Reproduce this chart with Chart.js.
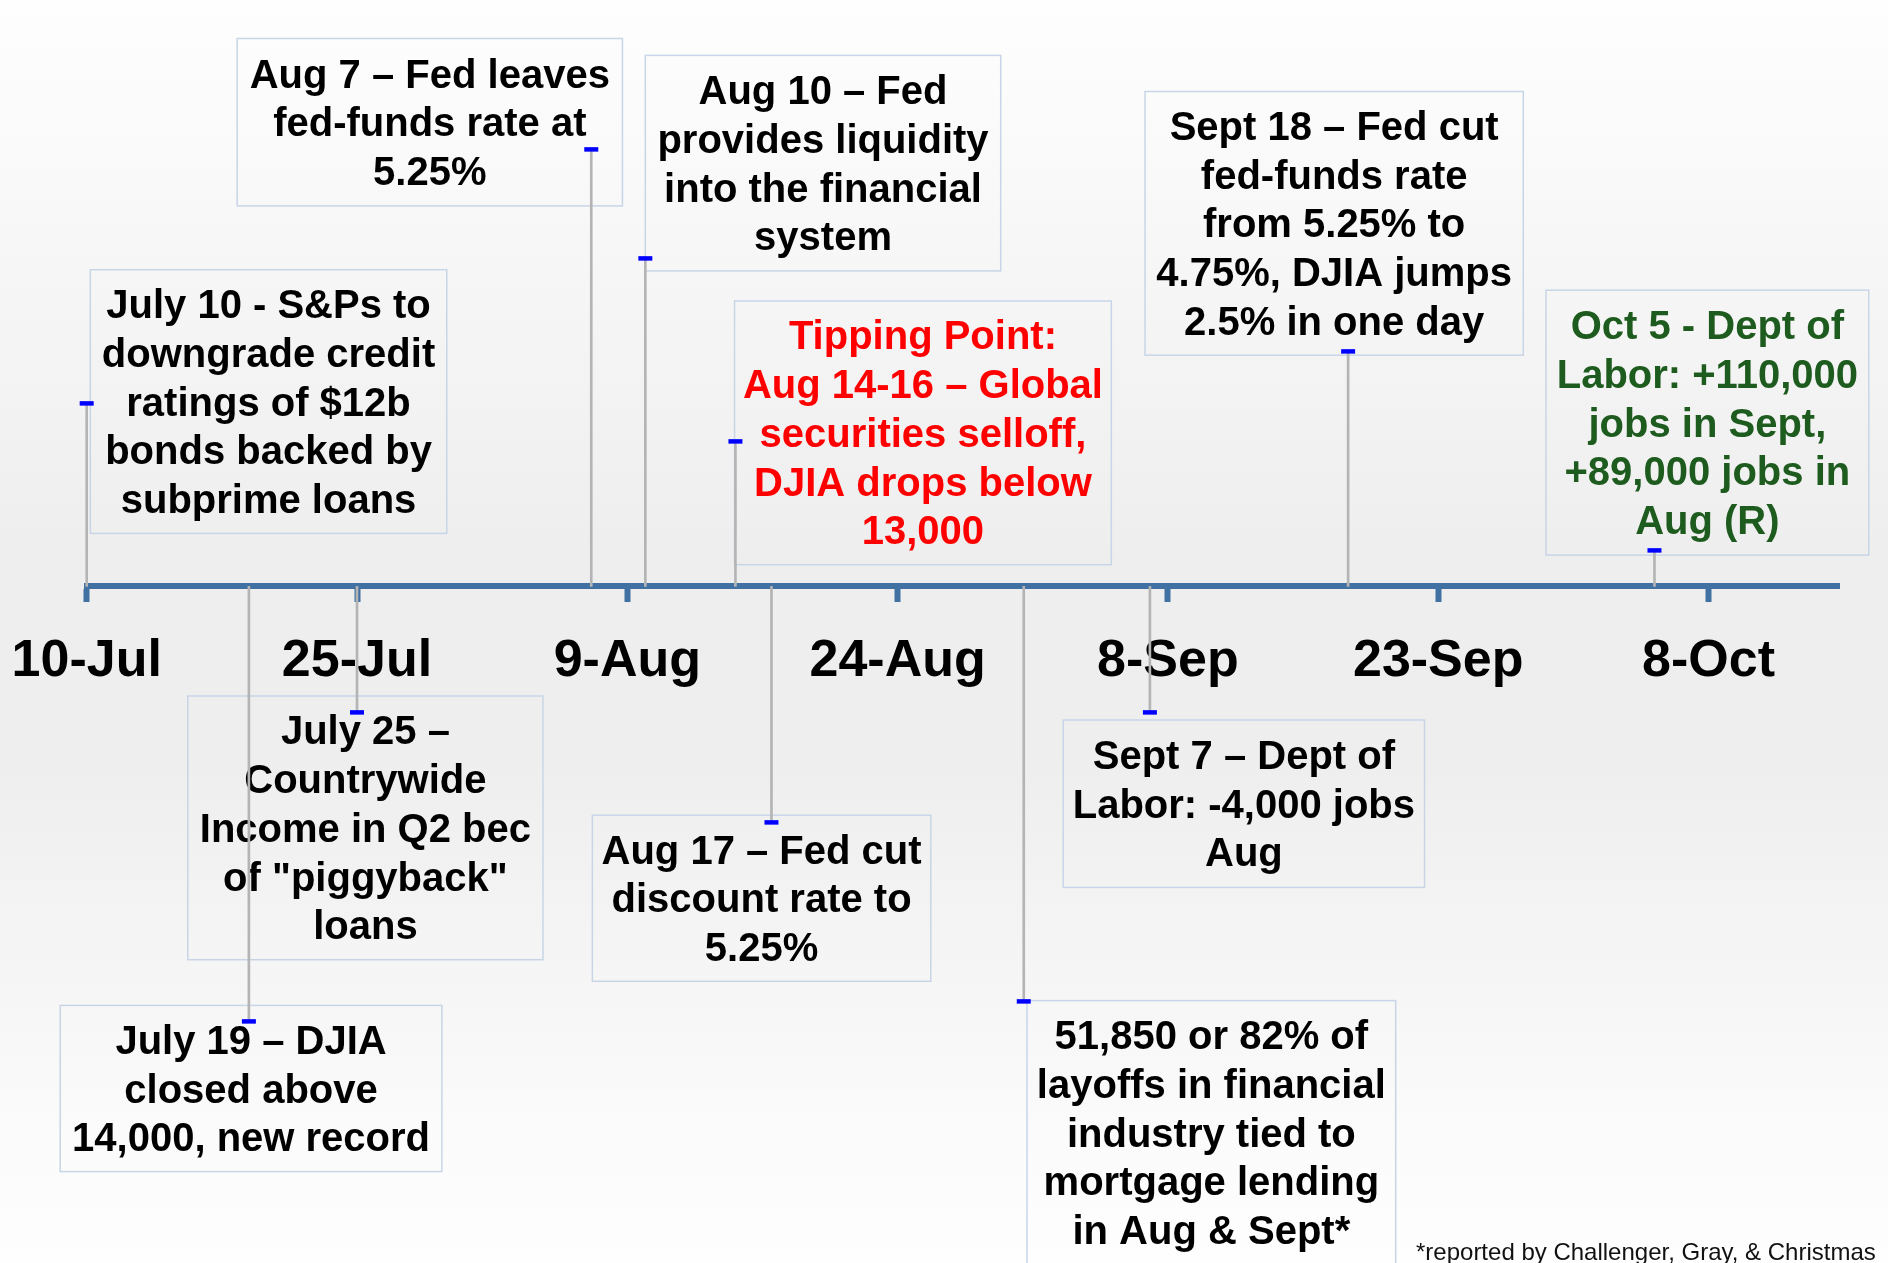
<!DOCTYPE html>
<html>
<head>
<meta charset="utf-8">
<script src="https://cdn.jsdelivr.net/npm/chart.js@4.4.1/dist/chart.umd.min.js"></script>
<style>
html,body{margin:0;padding:0;background:#fff;overflow:hidden}
#wrap{width:1888px;height:1263px;position:relative}
</style>
</head>
<body>
<div id="wrap"><canvas id="c" width="1888" height="1263"></canvas></div>
<script>
// ---- data (days counted from 10-Jul) ----
const tickDays = [0, 15, 30, 45, 60, 75, 90];
const tickLabels = ['10-Jul', '25-Jul', '9-Aug', '24-Aug', '8-Sep', '23-Sep', '8-Oct'];

const eventDays = [0, 9, 15, 28, 31, 36, 38, 52, 59, 70, 87];
const eventHeights = [1.83, -4.35, -1.26, 4.37, 3.28, 1.45, -2.36, -4.15, -1.26, 2.35, 0.36];
const eventTexts = [
  ['July 10 - S&Ps to', 'downgrade credit', 'ratings of $12b', 'bonds backed by', 'subprime loans'],
  ['July 19 \u2013 DJIA', 'closed above', '14,000, new record'],
  ['July 25 \u2013', 'Countrywide', 'Income in Q2 bec', 'of "piggyback"', 'loans'],
  ['Aug 7 \u2013 Fed leaves', 'fed-funds rate at', '5.25%'],
  ['Aug 10 \u2013 Fed', 'provides liquidity', 'into the financial', 'system'],
  ['Tipping Point:', 'Aug 14-16 \u2013 Global', 'securities selloff,', 'DJIA drops below', '13,000'],
  ['Aug 17 \u2013 Fed cut', 'discount rate to', '5.25%'],
  ['51,850 or 82% of', 'layoffs in financial', 'industry tied to', 'mortgage lending', 'in Aug & Sept*'],
  ['Sept 7 \u2013 Dept of', 'Labor: -4,000 jobs', 'Aug'],
  ['Sept 18 \u2013 Fed cut', 'fed-funds rate', 'from 5.25% to', '4.75%, DJIA jumps', '2.5% in one day'],
  ['Oct 5 - Dept of', 'Labor: +110,000', 'jobs in Sept,', '+89,000 jobs in', 'Aug (R)']
];
const footnote = '*reported by Challenger, Gray, & Christmas';

// ---- layout / style (separate from data) ----
// label boxes in axis units: [dayLeft, dayRight, yTop, yBottom]
const boxLayout = [
  [0.20, 19.98, 3.167, 0.530],
  [-1.47, 19.71, -4.190, -5.852],
  [5.61, 25.32, -1.096, -3.733],
  [8.35, 29.73, 5.479, 3.805],
  [31.00, 50.72, 5.310, 3.155],
  [35.95, 56.86, 2.854, 0.217],
  [28.06, 46.84, -2.288, -3.949],
  [52.18, 72.64, -4.142, -6.782],
  [54.19, 74.24, -1.336, -3.010],
  [58.73, 79.72, 4.949, 2.312],
  [80.98, 98.89, 2.962, 0.313]
];
const boxTextColors = ['#000','#000','#000','#000','#000','#ff0000','#000','#000','#000','#000','#1e5b1e'];
const FONT = '"Liberation Sans", Arial, Helvetica, sans-serif';
const AXIS_BLUE = '#4170a3';

const bgPlugin = {
  id: 'bg',
  beforeDraw(chart) {
    const ctx = chart.ctx;
    const g = ctx.createLinearGradient(0, 0, 0, chart.height);
    g.addColorStop(0, '#fefefe');
    g.addColorStop(0.44, '#eeeeee');
    g.addColorStop(0.60, '#eeeeee');
    g.addColorStop(0.90, '#fbfbfb');
    g.addColorStop(1, '#fefefe');
    ctx.save();
    ctx.fillStyle = g;
    ctx.fillRect(0, 0, chart.width, chart.height);
    ctx.restore();
  }
};

const boxPlugin = {
  id: 'boxes',
  beforeDatasetsDraw(chart) {
    const ctx = chart.ctx;
    const xs = chart.scales.x, ys = chart.scales.y;
    ctx.save();
    boxLayout.forEach((b, i) => {
      const l = xs.getPixelForValue(b[0]);
      const r = xs.getPixelForValue(b[1]);
      const t = ys.getPixelForValue(b[2]);
      const bt = ys.getPixelForValue(b[3]);
      ctx.strokeStyle = '#c8d5e7';
      ctx.lineWidth = 1.5;
      ctx.strokeRect(l, t, r - l, bt - t);
      const lines = eventTexts[i];
      ctx.fillStyle = boxTextColors[i];
      ctx.font = 'bold 40px ' + FONT;
      ctx.textAlign = 'center';
      ctx.textBaseline = 'middle';
      const cx = (l + r) / 2, cy = (t + bt) / 2 + 3, lh = 48.7;
      lines.forEach((s, k) => ctx.fillText(s, cx, cy + (k - (lines.length - 1) / 2) * lh));
    });
    ctx.restore();
  },
  afterDraw(chart) {
    const ctx = chart.ctx;
    ctx.save();
    ctx.fillStyle = '#111';
    ctx.font = '24px ' + FONT;
    ctx.textAlign = 'left';
    ctx.textBaseline = 'alphabetic';
    ctx.fillText(footnote, chart.width - 472, chart.height - 3);
    ctx.restore();
  }
};

const chart = new Chart(document.getElementById('c'), {
  type: 'scatter',
  data: {
    datasets: [
      {
        type: 'scatter',
        order: 0,
        data: eventDays.map((d, i) => ({ x: d, y: eventHeights[i] })),
        pointStyle: 'line',
        pointRadius: 7,
        pointHoverRadius: 7,
        borderColor: '#0000ff',
        backgroundColor: '#0000ff',
        pointBorderWidth: 4.5,
        showLine: false,
        clip: false
      },
      {
        type: 'bar',
        order: 1,
        data: eventDays.map((d, i) => ({ x: d, y: eventHeights[i] })),
        backgroundColor: '#b4b4b4',
        barThickness: 2,
        grouped: false,
        clip: false
      }
    ]
  },
  options: {
    responsive: false,
    animation: false,
    events: [],
    layout: { autoPadding: false, padding: { left: 86.7, right: 49, top: 0, bottom: 0 } },
    plugins: { legend: { display: false }, tooltip: { enabled: false } },
    scales: {
      x: {
        type: 'linear',
        min: 0,
        max: 97.24,
        offset: false,
        position: { y: 0 },
        afterFit(scale) { scale.height = 0; scale.paddingLeft = 0; scale.paddingRight = 0; },
        afterBuildTicks(scale) { scale.ticks = tickDays.map(v => ({ value: v })); },
        ticks: {
          includeBounds: false,
          autoSkip: false,
          maxRotation: 0,
          minRotation: 0,
          padding: 0,
          color: '#000',
          font: { family: FONT, size: 52, weight: 'bold', lineHeight: 2.39 },
          callback: (v) => tickLabels[tickDays.indexOf(v)]
        },
        grid: {
          offset: false,
          drawOnChartArea: false,
          drawTicks: true,
          tickLength: 13,
          tickWidth: 6,
          tickColor: AXIS_BLUE
        },
        border: { display: true, color: AXIS_BLUE, width: 6 }
      },
      y: {
        type: 'linear',
        min: -6.766,
        max: 5.864,
        display: false
      }
    }
  },
  plugins: [bgPlugin, boxPlugin]
});
</script>
</body>
</html>
